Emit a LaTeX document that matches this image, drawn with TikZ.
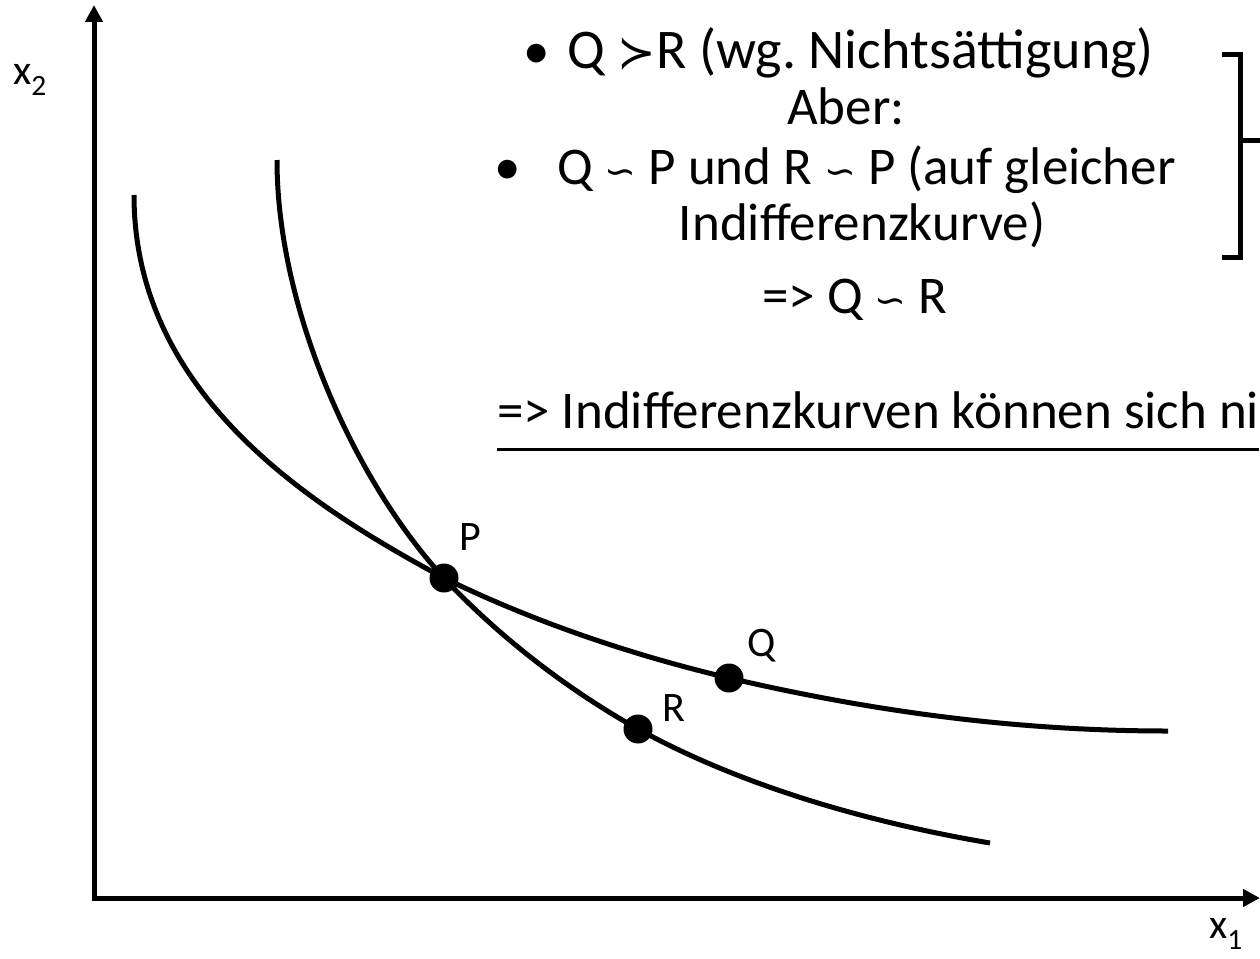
\documentclass[tikz,border=0pt]{standalone}
\usepackage{fontspec}
\setmainfont{Carlito}
\newfontfamily\relfont{DejaVu Sans}
\usepackage{tikz}
\usetikzlibrary{arrows.meta}
\frenchspacing
\newcommand{\prefrel}{{\relfont\fontsize{46}{52}\selectfont ≻}}
\newcommand{\indrel}{{\relfont\fontsize{38}{52}\selectfont ∽}}

\begin{document}
\begin{tikzpicture}[x=1pt,y=-1pt,
    curve/.style={line width=5pt},
    axis/.style={line width=5pt,line join=miter,
      {Triangle[width=17pt,length=17pt]}-{Triangle[width=17pt,length=17pt]}},
    dot/.style={circle,fill,inner sep=0pt,minimum size=29pt},
    lbl/.style={font=\fontsize{42}{50}\selectfont,inner sep=0pt},
    txt/.style={font=\fontsize{53}{63}\selectfont,inner sep=0pt,anchor=base}]
    \useasboundingbox (0,0) rectangle (1260,958);
    \coordinate (O) at (94,898);
    \coordinate (ytop) at (94,5);
    \coordinate (xend) at (1260,898);
    \draw[axis] (ytop) -- (O) -- (xend);
    \node[lbl] (ylbl) at (30,80) {x\textsubscript{2}};
    \node[lbl] (xlbl) at (1226,934) {x\textsubscript{1}};
    \node[dot] (P) at (444,578) {};
    \node[dot] (Q) at (729,678) {};
    \node[dot] (R) at (638,729) {};
    \coordinate (b0) at (134,195);
    \coordinate (b1) at (1168,731);
    \coordinate (a0) at (277,160);
    \coordinate (a1) at (990,843);
    \draw[curve] (b0) .. controls (134,395) and (312,507) .. (P.center)
      .. controls (534,622) and (632,655) .. (Q.center)
      .. controls (875,712) and (1018,731) .. (b1);
    \draw[curve] (a0) .. controls (277,310) and (356,483) .. (P.center)
      .. controls (498,636) and (568,690) .. (R.center)
      .. controls (743,787) and (872,823) .. (a1);
    \node[lbl] (Plbl) at (470,537) {P};
    \node[lbl] (Qlbl) at (762,646) {Q};
    \node[lbl] (Rlbl) at (674,708) {R};
    \node[txt] (bul1) at (537,69) {•};
    \node[txt,anchor=base west,font=\fontsize{56}{63}\selectfont] (pref) at (567,69)
      {Q \prefrel R (wg. Nichtsättigung)};
    \node[txt] (aber) at (846,124) {Aber:};
    \node[txt] (bul2) at (508,184) {•};
    \node[txt,anchor=base west] (indiff) at (557,184)
      {Q \indrel\ P und R \indrel\ P (auf gleicher};
    \node[txt] (kurve) at (862,240) {Indifferenzkurve)};
    \node[txt] (folg) at (855,313) {=> Q \indrel\ R};
    \node[txt,anchor=base west] (concl) at (497,428)
      {=> Indifferenzkurven können sich ni};
    \draw[line width=3pt] ([yshift=-21pt]concl.south west)
      -- ([yshift=-21pt]concl.south east);
    \draw[curve,line join=miter] (1222,55) -- (1240,55) -- (1240,257) -- (1222,257);
    \draw[curve] (1240,140) -- (1260,140);
\end{tikzpicture}
\end{document}
